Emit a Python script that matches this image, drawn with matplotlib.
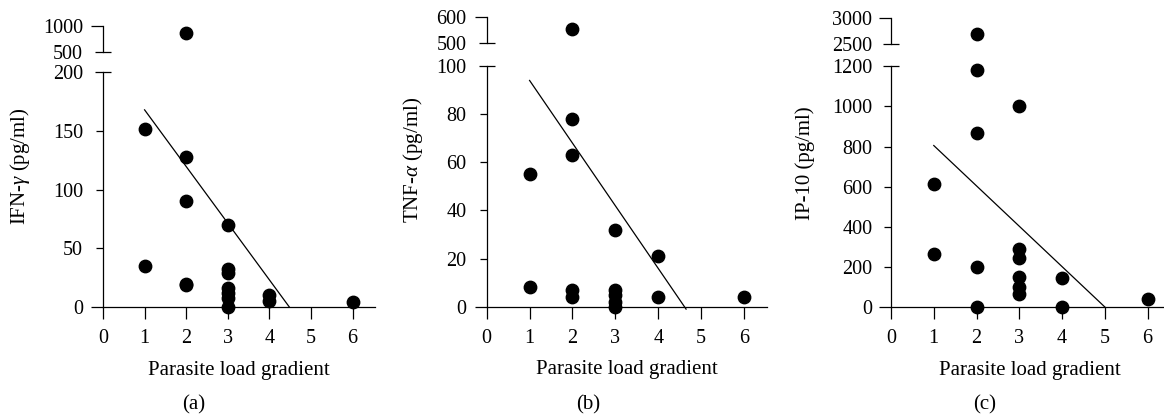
import matplotlib
matplotlib.use('Agg')
from matplotlib import pyplot as plt

plt.rcParams['font.family'] = ['Liberation Serif', 'DejaVu Serif']
plt.rcParams['mathtext.fontset'] = 'custom'
plt.rcParams['mathtext.rm'] = 'Liberation Serif'
plt.rcParams['mathtext.it'] = 'Liberation Serif:italic'

# (a) IFN-gamma
ifn_x = [1, 1, 2, 2, 2, 2, 2, 3, 3, 3, 3, 3, 3, 3, 4, 4, 6]
ifn_y = [152, 35, 855, 128, 90, 20, 19, 70, 32, 29, 16, 12, 8, 0, 10, 5, 4]
ifn_fit_x = [1, 4.48]
ifn_fit_y = [168, 0]

# (b) TNF-alpha
tnf_x = [1, 1, 2, 2, 2, 2, 2, 3, 3, 3, 3, 3, 4, 4, 6]
tnf_y = [55, 8, 553, 78, 63, 7, 4, 32, 7, 5, 2, 0, 21, 4, 4]
tnf_fit_x = [1, 4.65]
tnf_fit_y = [94, -1]

# (c) IP-10
ip_x = [1, 1, 2, 2, 2, 2, 2, 3, 3, 3, 3, 3, 3, 4, 4, 6]
ip_y = [615, 265, 2690, 1180, 865, 200, 0, 1000, 290, 245, 150, 100, 65, 145, 0, 40]
ip_fit_x = [1, 5]
ip_fit_y = [805, 0]

x_ticks = [0, 1, 2, 3, 4, 5, 6]
xlabel = 'Parasite load gradient'

W, H = 1164, 417
PX = 72 / 100  # points per pixel
fig = plt.figure(figsize=(W / 100, H / 100), dpi=100)

TICK_FS = 14.5
LAB_FS = 15


def box(l, r, top, bottom):
    return [l / W, (H - bottom) / H, (r - l) / W, (bottom - top) / H]


def panel(lo_box, up_box, xs, ys, lo_lim, lo_ticks, up_lim, up_ticks,
          fit_x, fit_y, xmax, ylabel, ylab_xy, tag, tag_x, gap):
    ax = fig.add_axes(box(*lo_box))
    up = fig.add_axes(box(*up_box))

    lx = [x for x, y in zip(xs, ys) if y <= lo_lim[1]]
    ly = [y for y in ys if y <= lo_lim[1]]
    ux = [x for x, y in zip(xs, ys) if y > lo_lim[1]]
    uy = [y for y in ys if y > lo_lim[1]]

    ax.scatter(lx, ly, s=80, c='black', clip_on=False, zorder=3)
    ax.plot(fit_x, fit_y, color='black', lw=0.9, clip_on=False)
    up.scatter(ux, uy, s=80, c='black', clip_on=False, zorder=3)

    ax.set_xlim(0, xmax)
    ax.set_ylim(*lo_lim)
    ax.set_xticks(x_ticks)
    ax.set_yticks(lo_ticks)
    up.set_xlim(0, xmax)
    up.set_ylim(*up_lim)
    up.set_yticks(up_ticks)
    up.set_xticks([])

    for a in (ax, up):
        a.spines['top'].set_visible(False)
        a.spines['right'].set_visible(False)
        for s in a.spines.values():
            s.set_linewidth(0.9)
        a.patch.set_alpha(0)
        a.yaxis.remove_overlapping_locs = False
    up.spines['bottom'].set_visible(False)

    ax.tick_params(axis='x', direction='out', length=12 * PX, width=0.9,
                   labelsize=TICK_FS, pad=10 * PX)
    ax.tick_params(axis='y', direction='out', length=6.7 * PX, width=0.9,
                   labelsize=TICK_FS, pad=(gap - 6.7) * PX)
    up.tick_params(axis='y', direction='out', length=12 * PX, width=0.9,
                   labelsize=TICK_FS, pad=(gap - 12) * PX)

    # break marks: top of lower axis and bottom of upper axis cross the spine
    ax.set_yticks([lo_lim[1]], minor=True)
    up.set_yticks([up_lim[0]], minor=True)
    for a in (ax, up):
        a.tick_params(axis='y', which='minor', direction='in',
                      length=8 * PX, width=0.9)
    lo_major = ax.yaxis.get_major_ticks(len(lo_ticks))
    lo_major[0].tick1line.set_markersize(12 * PX)
    lo_major[-1].tick1line.set_markersize(8 * PX)
    up_major = up.yaxis.get_major_ticks(len(up_ticks))
    up_major[0].tick1line.set_markersize(8 * PX)

    ax.set_xlabel(xlabel, fontsize=LAB_FS, labelpad=9)
    fig.text(ylab_xy[0] / W, 1 - ylab_xy[1] / H, ylabel, rotation=90,
             ha='center', va='center', fontsize=LAB_FS)
    fig.text(tag_x / W, 1 - 405 / H, tag, ha='center', va='center',
             fontsize=LAB_FS)


panel((103, 375, 72.3, 307), (103, 375, 25.7, 52), ifn_x, ifn_y,
      (0, 200), [0, 50, 100, 150, 200], (500, 1000), [500, 1000],
      ifn_fit_x, ifn_fit_y, 6.54, r'IFN-$\gamma$ (pg/ml)', (20, 166), '(a)', 194,
      20)

panel((486.7, 766.7, 66, 306.7), (486.7, 766.7, 16.7, 43.3), tnf_x, tnf_y,
      (0, 100), [0, 20, 40, 60, 80, 100], (500, 600), [500, 600],
      tnf_fit_x, tnf_fit_y, 6.53, r'TNF-$\alpha$ (pg/ml)', (413, 160), '(b)', 588,
      20)

panel((891, 1169, 66.3, 307), (891, 1169, 18.3, 44.3), ip_x, ip_y,
      (0, 1200), [0, 200, 400, 600, 800, 1000, 1200], (2500, 3000), [2500, 3000],
      ip_fit_x, ip_fit_y, 6.5, 'IP-10 (pg/ml)', (805, 163), '(c)', 985,
      18.5)

fig.savefig('out.png', dpi=100)
